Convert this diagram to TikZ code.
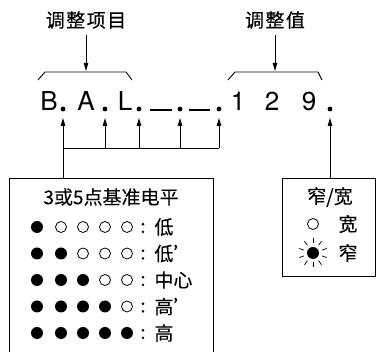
\documentclass[tikz,border=0pt]{standalone}
\usepackage{fontspec}
\setmainfont{TeX Gyre Heros}
\newfontfamily\cjk[FakeBold=0.4]{Noto Sans CJK SC}
\newfontfamily\cjkr[FakeBold=0.1]{Noto Sans CJK SC}
\usetikzlibrary{arrows.meta}
\begin{document}
\begin{tikzpicture}[x=1pt,y=-1pt,
  line width=0.9pt,
  cjktxt/.style={font=\cjk\fontsize{19}{19}\selectfont, inner sep=0pt},
  boxtxt/.style={font=\cjkr\fontsize{19}{19}\selectfont, inner sep=0pt},
  big/.style={font=\fontsize{26}{26}\selectfont, inner sep=0pt, anchor=base},
  arr/.style={-{Triangle[length=8pt,width=4.5pt]}},
  frame/.style={draw, line width=1pt},
  open/.style={draw, line width=0.8pt},
]
\useasboundingbox (0,0) rectangle (376,352);
% titles
\node[cjktxt] (t1) at (86,20) {调\hspace{1.5pt}整\hspace{1.5pt}项\hspace{1.5pt}目};
\node[cjktxt] (t2) at (275,20) {调\hspace{1.5pt}整\hspace{1.5pt}值};
\coordinate (b1) at (86,71);
\coordinate (b2) at (275,71);
\draw[arr] (86,35) -- (b1);
\draw[arr] (275,35) -- (b2);
% braces
\draw (38,80) -- (45,72) -- (126,72) -- (132,80);
\draw (228,80) -- (235,72) -- (318,72) -- (322,80);
% big text
\node[big] (cB) at (49,111) {B};
\node[big] (cA) at (86,111) {A};
\node[big] (cL) at (125,111) {L};
\node[big] (c1) at (238,111) {1};
\node[big] (c2) at (272,111) {2};
\node[big] (c9) at (309,111) {9};
\foreach \n/\x in {d1/63,d2/105,d3/139,d4/180,d5/219,d6/330}{
  \fill (\x,109) circle (2.4);
  \coordinate (\n) at (\x,118);
}
\draw[line width=1.2pt] (150,110) -- (172,110);
\draw[line width=1.2pt] (189,110) -- (210,110);
% arrows up
\coordinate (j1) at (63,148);
\foreach \n/\x in {d1/63,d2/105,d3/139,d4/180,d5/219}{
  \draw[arr] (\x,148) -- (\n);
}
\draw (j1) -- (219,148);
% left box
\node[frame, minimum width=204pt, minimum height=174pt, anchor=north west, inner sep=0pt] (lb) at (9,178) {};
\draw (lb.north -| j1) -- (j1);
\node[boxtxt] (lt) at (111,197) {3或5点基准电平};
\foreach \r/\y/\lab in {1/227/低,2/253.5/低’,3/280/中心,4/306.5/高’,5/333/高}{
  \foreach \i/\x in {1/37,2/61,3/83,4/105,5/127}{
    \ifnum\i>\r
      \draw[open] (\x,\y) circle (5.5);
    \else
      \fill (\x,\y) circle (6);
    \fi
  }
  \node[boxtxt, anchor=base] at (143,\y+6) {:};
  \node[boxtxt, anchor=west] (lab\r) at (154,\y) {\lab};
}
% right box
\node[frame, minimum width=93pt, minimum height=98pt, anchor=north west, inner sep=0pt] (rb) at (282,178) {};
\draw[arr] (rb.north -| d6) -- (d6);
\node[boxtxt] (rt) at (330,197) {窄/宽};
\draw[open] (313,224) circle (5.5);
\node[boxtxt] (w) at (348,224) {宽};
\fill (313,253) circle (6);
\foreach \a in {18,54,90,126,162,198,234,270,306,342}{
  \draw[line width=0.7pt] (313,253) ++(\a:9.5) -- ++(\a:5);
}
\node[boxtxt] (n) at (348,253) {窄};
\end{tikzpicture}
\end{document}
